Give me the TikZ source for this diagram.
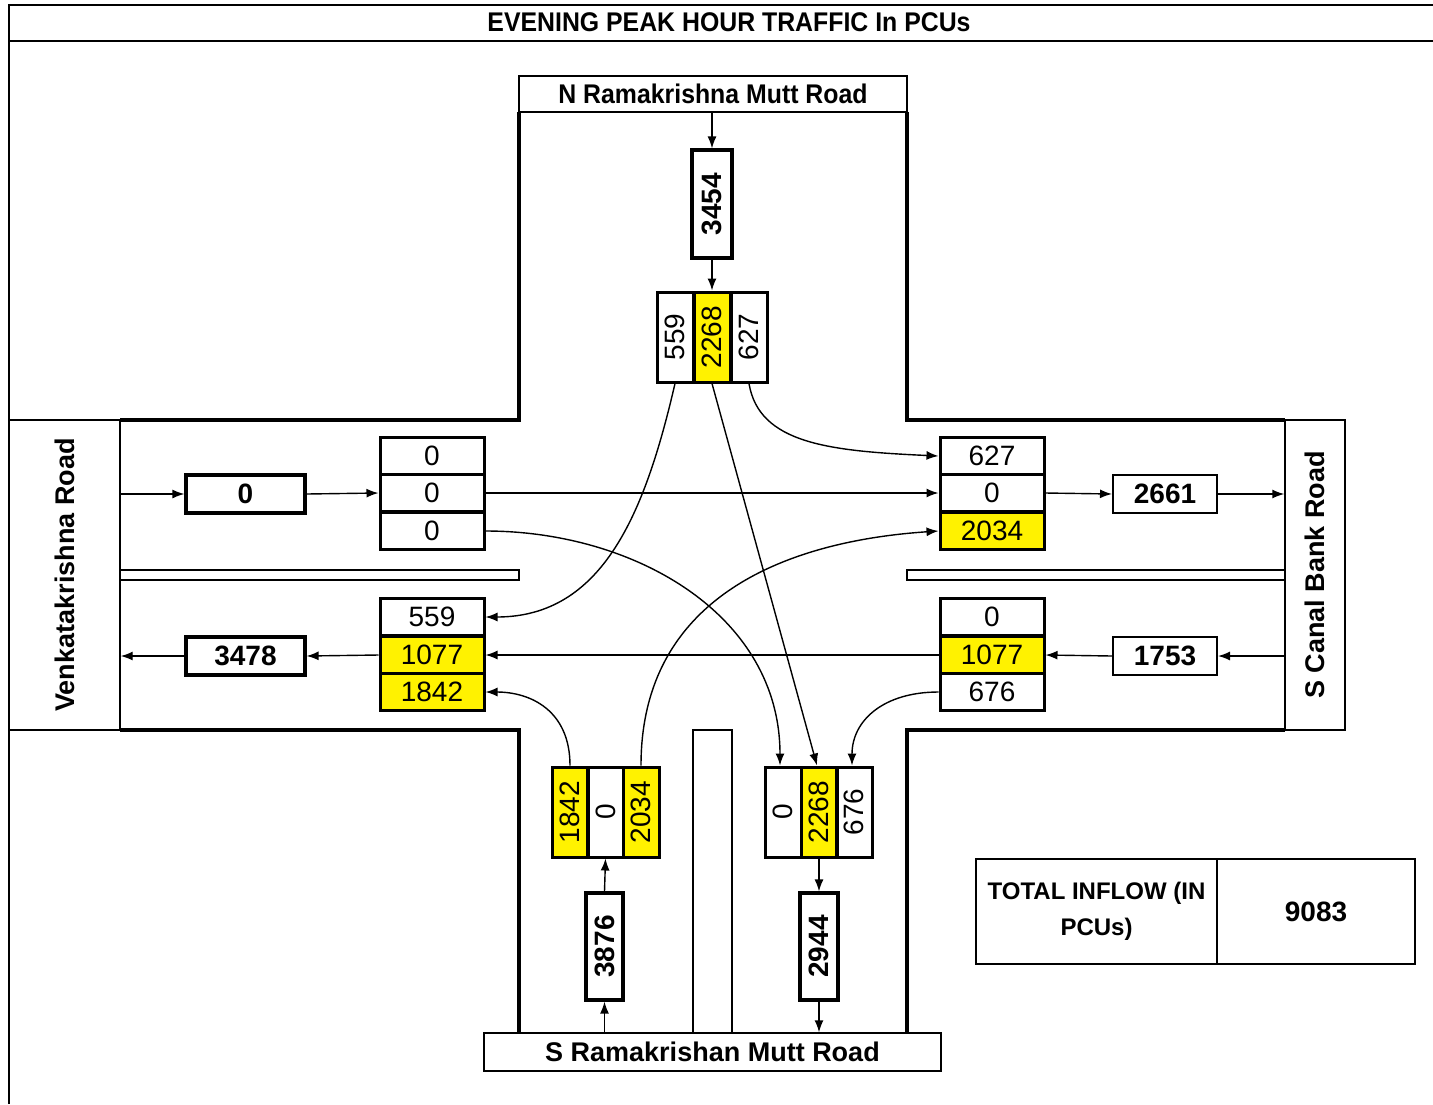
\documentclass[tikz,border=0pt]{standalone}
\usepackage{fontspec}
\usepackage{graphicx}
\setmainfont{Liberation Sans}
\newfontfamily\condfont[FakeStretch=0.92]{Liberation Sans}
\usetikzlibrary{arrows.meta}
\begin{document}
\begin{tikzpicture}[x=1pt,y=-1pt,
  thinl/.style={line width=1.4pt},
  road/.style={line width=4pt},
  cell/.style={draw, line width=3pt, inner sep=0pt, minimum width=104pt, minimum height=37.7pt, font=\fontsize{28}{28}\selectfont},
  vcell/.style={draw, line width=3pt, inner sep=0pt, minimum width=36pt, minimum height=90pt, font=\fontsize{28}{28}\selectfont},
  tot/.style={draw, line width=3.2pt, inner sep=0pt, font=\bfseries\fontsize{28}{28}\selectfont},
  totthin/.style={draw, line width=2pt, inner sep=0pt, font=\bfseries\fontsize{28}{28}\selectfont},
  hl/.style={fill=yellow},
  lab/.style={draw, line width=1.4pt, inner sep=0pt, font=\bfseries\fontsize{27}{27}\selectfont},
  arr/.style={line width=1.4pt, -{Latex[length=12pt,width=9pt]}},
]
\useasboundingbox (0,0) rectangle (1433,1104);
\fill[white] (0,0) rectangle (1433,1104);

% frame and title
\draw[thinl] (9,1104) -- (9,5) -- (1433,5);
\draw[thinl] (9,41) -- (1433,41);
\node (title) at (729,22) {\condfont\bfseries\fontsize{27}{27}\selectfont EVENING PEAK HOUR TRAFFIC In PCUs};

% road labels
\node[lab, minimum width=388pt, minimum height=36pt] (nroad) at (713,94) {\condfont\bfseries N Ramakrishna Mutt Road};
\node[lab, minimum width=457pt, minimum height=38pt] (sroad) at (712.5,1052) {S Ramakrishan Mutt Road};
\node[lab, minimum width=111pt, minimum height=310pt] (wroad) at (64.5,575) {\rotatebox{90}{Venkatakrishna Road}};
\node[lab, minimum width=60pt, minimum height=310pt] (eroad) at (1315,575) {\rotatebox{90}{S Canal Bank Road}};

% medians
\draw[thinl] (120,570) rectangle (519,580);
\draw[thinl] (907,570) rectangle (1285,580);
\draw[thinl] (693,1033) -- (693,730) -- (732,730) -- (732,1033);

% road edges
\draw[road] (519,112) -- (519,420) -- (120,420);
\draw[road] (907,112) -- (907,420) -- (1285,420);
\draw[road] (120,730) -- (519,730) -- (519,1033);
\draw[road] (1285,730) -- (907,730) -- (907,1033);

% north approach
\node[tot, minimum width=40pt, minimum height=108pt] (n3454) at (712,204) {\rotatebox{90}{3454}};
\node[vcell] (nl) at (675,337) {\rotatebox{90}{559}};
\node[vcell,hl] (nm) at (712,337) {\rotatebox{90}{2268}};
\node[vcell] (nr) at (749,337) {\rotatebox{90}{627}};

% west
\node[tot, minimum width=119pt, minimum height=38pt] (w0) at (245.5,494) {0};
\node[cell] (wi1) at (432,456) {0};
\node[cell] (wi2) at (432,493) {0};
\node[cell] (wi3) at (432,531) {0};
\node[cell] (wo1) at (432,617) {559};
\node[cell,hl] (wo2) at (432,655) {1077};
\node[cell,hl] (wo3) at (432,692) {1842};
\node[tot, minimum width=119pt, minimum height=38pt] (w3478) at (245.5,656) {3478};

% east
\node[cell] (ei1) at (992,456) {627};
\node[cell] (ei2) at (992,493) {0};
\node[cell,hl] (ei3) at (992,531) {2034};
\node[totthin, minimum width=104pt, minimum height=38pt] (e2661) at (1165,494) {2661};
\node[cell] (eo1) at (992,617) {0};
\node[cell,hl] (eo2) at (992,655) {1077};
\node[cell] (eo3) at (992,692) {676};
\node[totthin, minimum width=104pt, minimum height=38pt] (e1753) at (1165,656) {1753};

% south
\node[vcell,hl] (sa1) at (570,812) {\rotatebox{90}{1842}};
\node[vcell] (sa2) at (605.5,812) {\rotatebox{90}{0}};
\node[vcell,hl] (sa3) at (641,812) {\rotatebox{90}{2034}};
\node[tot, minimum width=37pt, minimum height=107pt] (s3876) at (604.5,946.5) {\rotatebox{90}{3876}};
\node[vcell] (so1) at (783,812) {\rotatebox{90}{0}};
\node[vcell,hl] (so2) at (819,812) {\rotatebox{90}{2268}};
\node[vcell] (so3) at (854,812) {\rotatebox{90}{676}};
\node[tot, minimum width=38pt, minimum height=107pt] (s2944) at (819,946.5) {\rotatebox{90}{2944}};

% total table
\node[draw, thinl, minimum width=241pt, minimum height=105pt, align=center, inner sep=0pt, font=\bfseries\fontsize{24}{36}\selectfont] (totl) at (1096.5,911.5) {TOTAL INFLOW (IN\\PCUs)};
\node[draw, thinl, minimum width=198pt, minimum height=105pt, inner sep=0pt, font=\bfseries\fontsize{28}{28}\selectfont] (totv) at (1316,911.5) {9083};

% straight arrows
\draw[arr] (n3454.north |- nroad.south) -- (n3454.north);
\draw[arr] (n3454.south) -- (nm.north);
\draw[arr] (wroad.east |- w0) -- (w0.west);
\draw[arr] (w0.east) -- (wi2.west);
\draw[arr] (wo2.west) -- (w3478.east);
\draw[arr] (w3478.west) -- (wroad.east |- w3478);
\draw[arr] (ei2.east) -- (e2661.west);
\draw[arr] (e2661.east) -- (eroad.west |- e2661);
\draw[arr] (eroad.west |- e1753) -- (e1753.east);
\draw[arr] (e1753.west) -- (eo2.east);
\draw[arr] (sroad.north -| s3876) -- (s3876.south);
\draw[arr] (s3876.north) -- (sa2.south);
\draw[arr] (so2.south) -- (s2944.north);
\draw[arr] (s2944.south) -- (sroad.north -| s2944);

% turning movements
\draw[arr] (nl.south) .. controls +(-30,130) and +(117,0) .. (wo1.east);
\draw[arr] (nm.south) -- ([xshift=-2pt]so2.north);
\draw[arr] (nr.south) .. controls +(10,60) and +(-110,-5) .. (ei1.west);
\draw[arr] (wi2.east) -- (ei2.west);
\draw[arr] (wi3.east) .. controls +(150,0) and +(0,-150) .. ([xshift=-3pt]so1.north);
\draw[arr] (eo2.west) -- (wo2.east);
\draw[arr] (eo3.west) .. controls +(-55,0) and +(0,-45) .. ([xshift=-2pt]so3.north);
\draw[arr] (sa1.north) .. controls +(0,-55) and +(45,0) .. (wo3.east);
\draw[arr] (sa3.north) .. controls +(0,-170) and +(-150,10) .. (ei3.west);
\end{tikzpicture}
\end{document}
